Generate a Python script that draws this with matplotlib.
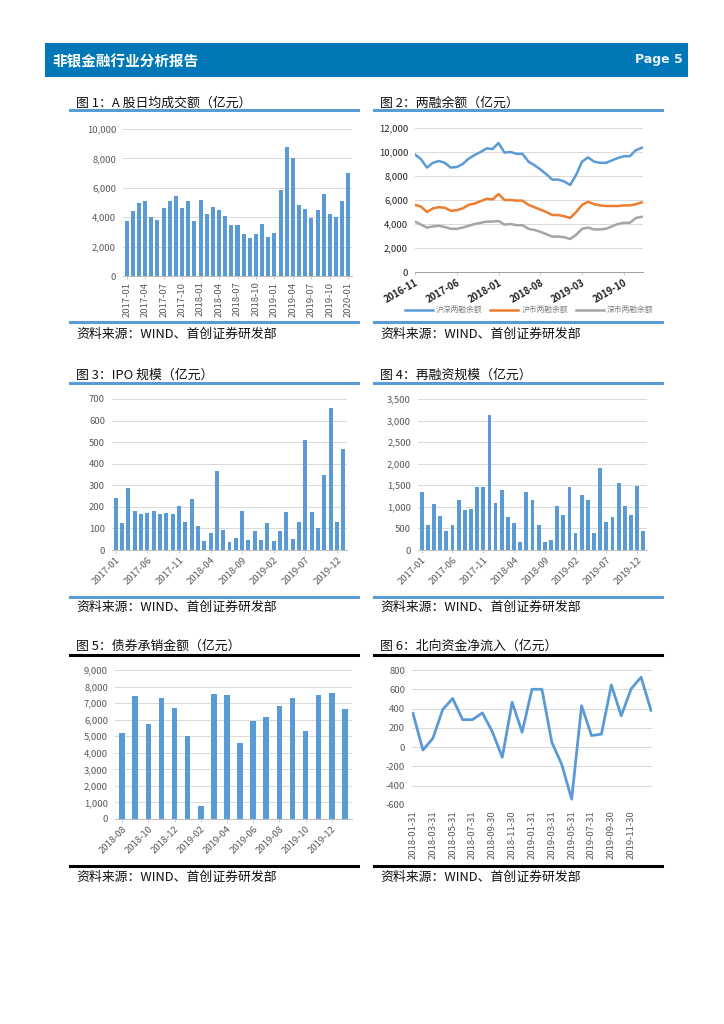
import numpy as np
import pandas as pd
import matplotlib
matplotlib.use("Agg")
import matplotlib.pyplot as plt
from matplotlib.patches import Rectangle
from matplotlib.lines import Line2D

plt.rcParams['font.family'] = ['Noto Sans CJK SC', 'DejaVu Sans']

W, H = 724, 1024

# ---- data ----
months_1 = list(pd.period_range('2017-01', '2020-01', freq='M').strftime('%Y-%m'))
turnover = [3750, 4430, 4980, 5090, 4020, 3840, 4640, 5090, 5430, 4640, 5070, 3770,
            5160, 4250, 4660, 4520, 4050, 3450, 3500, 2840, 2570, 2890, 3520, 2640,
            2950, 5840, 8800, 8000, 4860, 4550, 3950, 4480, 5610, 4200, 4000, 5090, 6980]

months_2 = list(pd.period_range('2016-11', '2020-01', freq='M').strftime('%Y-%m'))
margin_total = [9800, 9400, 8700, 9100, 9250, 9100, 8700, 8750, 9000, 9450, 9750, 10000,
                10300, 10250, 10750, 9950, 10000, 9850, 9850, 9200, 8900, 8550, 8150, 7700,
                7700, 7550, 7250, 8100, 9200, 9550, 9200, 9100, 9100, 9300, 9500, 9650,
                9650, 10150, 10350]
margin_sh = [5600, 5450, 5000, 5300, 5400, 5350, 5100, 5150, 5300, 5600, 5700, 5900,
             6100, 6050, 6500, 6000, 6000, 5950, 5950, 5600, 5400, 5200, 5000, 4750,
             4750, 4650, 4500, 5000, 5600, 5850, 5650, 5550, 5500, 5500, 5500, 5550,
             5550, 5650, 5800]
margin_sz = [4200, 3950, 3700, 3800, 3850, 3750, 3600, 3600, 3700, 3850, 4000, 4100,
             4200, 4200, 4250, 3950, 4000, 3900, 3900, 3600, 3500, 3350, 3150, 2950,
             2950, 2900, 2750, 3100, 3600, 3700, 3550, 3550, 3600, 3800, 4000, 4100,
             4100, 4500, 4600]

ipo = [240, 125, 287, 180, 165, 172, 182, 168, 172, 168, 202, 128, 236, 112, 42, 77,
       365, 92, 35, 57, 180, 45, 90, 47, 127, 40, 88, 175, 53, 131, 510, 176, 102,
       350, 657, 128, 470]
refin = [1350, 590, 1070, 790, 430, 570, 1160, 920, 960, 1460, 1450, 3140, 1080, 1400,
         770, 620, 190, 1350, 1170, 580, 190, 230, 1020, 810, 1460, 390, 1270, 1160,
         390, 1890, 640, 760, 1550, 1020, 810, 1480, 440]

months_5 = list(pd.period_range('2018-08', '2020-01', freq='M').strftime('%Y-%m'))
bonds = [5200, 7450, 5720, 7320, 6700, 5030, 800, 7580, 7460, 4580, 5920, 6170,
         6850, 7300, 5320, 7480, 7630, 6630]

dates_6 = list(pd.date_range('2018-01-31', periods=25, freq='ME').strftime('%Y-%m-%d'))
northbound = [350, -30, 90, 390, 505, 285, 285, 355, 160, -105, 465, 155, 600, 600,
              50, -180, -540, 430, 120, 135, 645, 325, 605, 725, 380]

BAR = '#5B9BD5'
GRID = '#D9D9D9'
TICK = '#595959'
LBLUE = '#5B9BD5'
TS = 6.8

fig = plt.figure(figsize=(W / 100, H / 100), dpi=100)


def px_axes(l, t, r, b):
    return fig.add_axes([l / W, 1 - b / H, (r - l) / W, (b - t) / H])


def fig_text(x, y, s, **kw):
    fig.text(x / W, 1 - y / H, s, **kw)


def hline(x0, x1, y, color, lw):
    fig.add_artist(Line2D([x0 / W, x1 / W], [1 - y / H, 1 - y / H],
                          color=color, lw=lw, transform=fig.transFigure))


# header band
fig.add_artist(Rectangle((45 / W, 1 - 77 / H), (688 - 45) / W, (77 - 43) / H,
                         facecolor='#0077B6', edgecolor='none', transform=fig.transFigure))
fig_text(52, 61, '非银金融行业分析报告', color='white', fontsize=10.5, fontweight='bold', va='center')
fig_text(683, 59, 'Page 5', color='#E8F0F8', fontsize=9, fontweight='bold', va='center',
         ha='right', family='DejaVu Sans')

# panel frames: titles, lines, sources
panels = [
    (70, 358, 103, 110, 322, 334, '图 1：A 股日均成交额（亿元）', LBLUE),
    (374, 662, 103, 110, 322, 334, '图 2：两融余额（亿元）', LBLUE),
    (70, 358, 375, 383, 597, 607, '图 3：IPO 规模（亿元）', LBLUE),
    (374, 662, 375, 383, 597, 607, '图 4：再融资规模（亿元）', LBLUE),
    (70, 358, 646, 655, 866, 877, '图 5：债券承销金额（亿元）', 'black'),
    (374, 662, 646, 655, 866, 877, '图 6：北向资金净流入（亿元）', 'black'),
]
for x0, x1, ty, ly, by, sy, title, lc in panels:
    fig_text(x0 + 6, ty, title, fontsize=9.3, va='center', color='#111111')
    hline(x0, x1, ly, lc, 2.2)
    hline(x0, x1, by, lc, 2.2)
    fig_text(x0 + 6, sy, '资料来源：WIND、首创证券研发部', fontsize=9.3, va='center', color='#111111')


def style(ax, ymax, ystep, fmt='{:,.0f}', ymin=0):
    ax.set_ylim(ymin, ymax)
    ax.set_yticks(np.arange(ymin, ymax + 1, ystep))
    ax.set_yticklabels([fmt.format(v) for v in np.arange(ymin, ymax + 1, ystep)])
    ax.grid(axis='y', color=GRID, lw=0.7)
    ax.set_axisbelow(True)
    for s in ['top', 'right', 'left']:
        ax.spines[s].set_visible(False)
    ax.spines['bottom'].set_color('#BFBFBF')
    ax.spines['bottom'].set_linewidth(0.7)
    ax.tick_params(axis='y', length=0, labelsize=TS, labelcolor=TICK, pad=5)
    ax.tick_params(axis='x', length=2, width=0.6, color='#BFBFBF', labelsize=TS,
                   labelcolor=TICK, pad=2)


# chart 1
ax1 = px_axes(123, 129, 352, 276)
x = np.arange(len(turnover))
ax1.bar(x, turnover, width=0.65, color=BAR)
ax1.set_xlim(-0.6, len(turnover) - 0.4)
style(ax1, 10000, 2000)
ax1.set_xticks(x[::3])
ax1.set_xticklabels(months_1[::3], rotation=90)

# chart 2
ax2 = px_axes(415, 128, 643, 272)
x = np.arange(len(months_2))
ax2.plot(x, margin_total, color='#5B9BD5', lw=1.8, label='沪深两融余额')
ax2.plot(x, margin_sh, color='#ED7D31', lw=1.8, label='沪市两融余额')
ax2.plot(x, margin_sz, color='#A5A5A5', lw=1.8, label='深市两融余额')
ax2.set_xlim(0, len(months_2) - 0.8)
style(ax2, 12000, 2000)
ax2.spines['bottom'].set_color('#A0A0A0')
ax2.set_xticks(x[::7])
ax2.set_xticklabels(months_2[::7], rotation=30, ha='right', rotation_mode='anchor',
                    fontweight='bold', color='#222222', fontsize=TS)
ax2.tick_params(axis='y', labelcolor='#222222')
ax2.legend(loc='upper center', bbox_to_anchor=(0.5, -0.2), ncol=3, frameon=False,
           fontsize=5.6, labelcolor='#7F7F7F', handlelength=3.6, columnspacing=1.0,
           handletextpad=0.4, borderpad=0.2)

# chart 3
ax3 = px_axes(112, 399, 347, 550)
x = np.arange(len(ipo))
ax3.bar(x, ipo, width=0.62, color=BAR)
ax3.set_xlim(-0.6, len(ipo) - 0.4)
style(ax3, 700, 100)
ax3.set_xticks(x[::5])
ax3.set_xticklabels(months_1[::5], rotation=45, ha='right', rotation_mode='anchor')

# chart 4
ax4 = px_axes(418, 399, 647, 550)
x = np.arange(len(refin))
ax4.bar(x, refin, width=0.62, color=BAR)
ax4.set_xlim(-0.6, len(refin) - 0.4)
style(ax4, 3500, 500)
ax4.set_xticks(x[::5])
ax4.set_xticklabels(months_1[::5], rotation=45, ha='right', rotation_mode='anchor')

# chart 5
ax5 = px_axes(115, 670, 352, 819)
x = np.arange(len(bonds))
ax5.bar(x, bonds, width=0.43, color=BAR)
ax5.set_xlim(-0.55, len(bonds) - 0.45)
style(ax5, 9000, 1000)
ax5.set_xticks(x[::2])
ax5.set_xticklabels(months_5[::2], rotation=45, ha='right', rotation_mode='anchor')

# chart 6
ax6 = px_axes(412, 670, 652, 805)
x = np.arange(len(northbound))
ax6.plot(x, northbound, color='#5B9BD5', lw=2.0)
ax6.set_xlim(-0.1, len(northbound) - 0.9)
style(ax6, 800, 200, ymin=-600)
ax6.spines['bottom'].set_visible(False)
ax6.axhline(0, color=GRID, lw=0.7, zorder=0)
ax6.set_xticks(x[:23:2])
ax6.set_xticklabels(dates_6[:23:2], rotation=90)
ax6.tick_params(axis='x', length=0, pad=4)

fig.savefig('out.png', dpi=100)
